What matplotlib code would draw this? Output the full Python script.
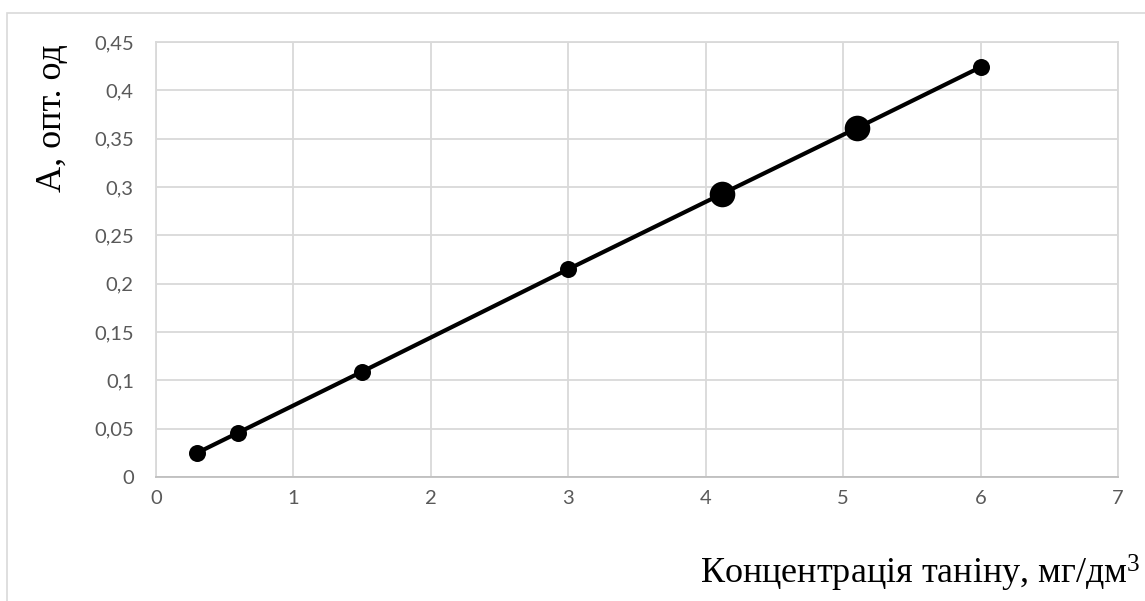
import matplotlib
matplotlib.use("Agg")
import matplotlib.pyplot as plt
from matplotlib.patches import Rectangle
from matplotlib.ticker import FuncFormatter, MultipleLocator

plt.rcParams["mathtext.fontset"] = "custom"
plt.rcParams["mathtext.rm"] = "Liberation Serif"
plt.rcParams["mathtext.it"] = "Liberation Serif:italic"

# Data
conc = [0.3, 0.6, 1.5, 3.0, 4.12, 5.1, 6.0]
absorb = [0.025, 0.046, 0.109, 0.215, 0.293, 0.361, 0.424]
big_marker = [False, False, False, False, True, True, False]

x_label = "Концентрація таніну, мг/дм$\\mathregular{^3}$"
y_label = "А, опт. од"

fig = plt.figure(figsize=(11.45, 6.01), dpi=100)
ax = fig.add_axes([156/1145, 1-477/601, (1118-156)/1145, (477-42)/601])

# outer chart border
fig.patches.append(Rectangle((7/1145, -0.1), 1.2, 1-13/601+0.1, transform=fig.transFigure,
                             fill=False, edgecolor="#d9d9d9", linewidth=1.2))

ax.plot(conc, absorb, color="black", linewidth=3.0, zorder=3)
small_x = [c for c, b in zip(conc, big_marker) if not b]
small_y = [a for a, b in zip(absorb, big_marker) if not b]
big_x = [c for c, b in zip(conc, big_marker) if b]
big_y = [a for a, b in zip(absorb, big_marker) if b]
ax.scatter(small_x, small_y, s=150, color="black", zorder=4, linewidths=0)
ax.scatter(big_x, big_y, s=340, color="black", zorder=4, linewidths=0)

ax.set_xlim(0, 7)
ax.set_ylim(0, 0.45)
ax.xaxis.set_major_locator(MultipleLocator(1))
ax.yaxis.set_major_locator(MultipleLocator(0.05))

def fmt(v, pos):
    s = f"{v:.2f}".rstrip("0").rstrip(".")
    return s.replace(".", ",")

ax.yaxis.set_major_formatter(FuncFormatter(fmt))
ax.xaxis.set_major_formatter(FuncFormatter(lambda v, p: f"{v:.0f}"))

ax.grid(True, color="#d9d9d9", linewidth=1.3)
ax.set_axisbelow(True)
for sp in ax.spines.values():
    sp.set_color("#d9d9d9")
    sp.set_linewidth(1.3)
ax.spines["bottom"].set_color("#bfbfbf")

ax.tick_params(axis="both", length=0, labelcolor="#595959", labelsize=14.5)
ax.tick_params(axis="y", pad=16)
ax.tick_params(axis="x", pad=9)
for lab in ax.get_xticklabels() + ax.get_yticklabels():
    lab.set_fontfamily(["Lato", "DejaVu Sans"])

fig.text(1141/1145, 1-573/601, x_label, ha="right", va="center",
         fontsize=26, family=["Liberation Serif", "DejaVu Serif"], color="black")
fig.text(52/1145, 1-118/601, y_label, ha="center", va="center", rotation=90,
         fontsize=26, family=["Liberation Serif", "DejaVu Serif"], color="black")

fig.savefig("out.png", dpi=100)
